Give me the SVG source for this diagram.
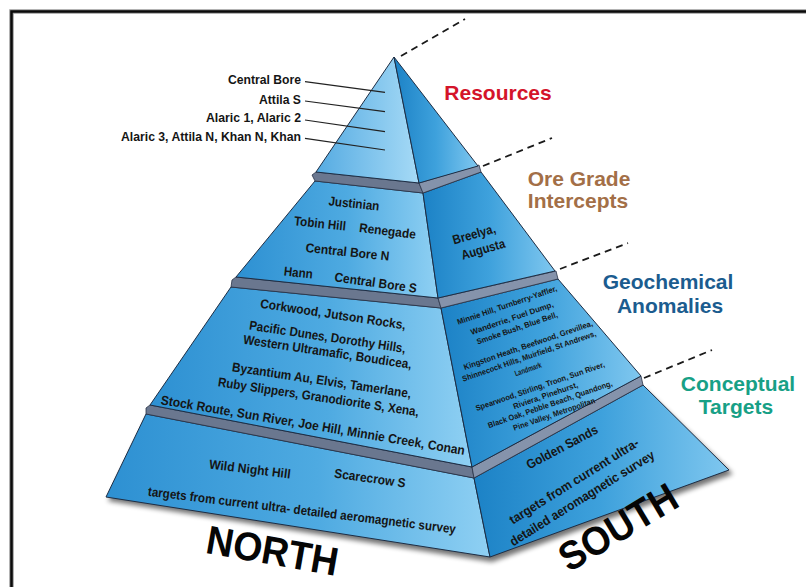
<svg xmlns="http://www.w3.org/2000/svg" width="806" height="587" viewBox="0 0 806 587">
  <defs>
    <linearGradient id="gL" x1="0" y1="0" x2="1" y2="0">
      <stop offset="0" stop-color="#2d90d2"/>
      <stop offset="0.55" stop-color="#4eaae1"/>
      <stop offset="1" stop-color="#8fd0f3"/>
    </linearGradient>
    <linearGradient id="gL1" x1="0" y1="0" x2="1" y2="0">
      <stop offset="0" stop-color="#55abe2"/>
      <stop offset="1" stop-color="#a6daf6"/>
    </linearGradient>
    <linearGradient id="gR" x1="0" y1="0" x2="1" y2="0">
      <stop offset="0" stop-color="#1c82c6"/>
      <stop offset="0.5" stop-color="#3ea1dc"/>
      <stop offset="1" stop-color="#7fc7ef"/>
    </linearGradient>
    <filter id="soft" x="-10%" y="-10%" width="120%" height="130%">
      <feGaussianBlur stdDeviation="2.5"/>
    </filter>
    <style>
      .face{stroke:#1d2d44;stroke-width:1;stroke-linejoin:round}
      .lf{fill:url(#gL)}
      .lf1{fill:url(#gL1)}
      .rf{fill:url(#gR)}
      .ldL{fill:#6a778f;stroke:#2a3447;stroke-width:0.8;stroke-linejoin:round}
      .ldR{fill:#8593ab;stroke:#2a3447;stroke-width:0.8;stroke-linejoin:round}
      .t{font-family:"Liberation Sans",Arial,sans-serif;font-weight:bold;fill:#151515}
      .s13{font-size:13px}
      .s8{font-size:8px}
      .big{font-family:"Liberation Sans",Arial,sans-serif;font-weight:bold;font-size:21px}
      .dir{font-family:"Liberation Sans",Arial,sans-serif;font-weight:bold;font-size:40px;fill:#050505}
      .dash{fill:none;stroke:#1a1a1a;stroke-width:1.8;stroke-dasharray:7 5}
      .lead{stroke:#222;stroke-width:1.2}
    </style>
  </defs>

  <rect width="806" height="587" fill="#ffffff"/>

  <!-- frame: top and left edges only -->
  <path d="M806 11.5 H11.5 V587" fill="none" stroke="#9a9a9a" stroke-width="4.5"/>
  <path d="M806 11.5 H11.5 V587" fill="none" stroke="#0a0a0a" stroke-width="2.5"/>

  <!-- soft shadow under the base -->
  <polygon points="108,501 492,562 733,474 645,390 148,418" fill="#000" opacity="0.55" filter="url(#soft)"/>

  <!-- base tier: conceptual targets -->
  <g id="tier-conceptual">
    <polygon class="face lf" points="146,414 474,478 490,557 106,497"/>
    <polygon class="face rf" points="474,478 643,385 729,470 490,557"/>
    <text class="t s13" transform="translate(250,469) rotate(7)" y="4.6" text-anchor="middle" textLength="82" lengthAdjust="spacingAndGlyphs">Wild Night Hill</text>
    <text class="t s13" transform="translate(370,478) rotate(8)" y="4.6" text-anchor="middle" textLength="72" lengthAdjust="spacingAndGlyphs">Scarecrow S</text>
    <text class="t s13" transform="translate(302,510) rotate(7)" y="4.6" text-anchor="middle" textLength="310" lengthAdjust="spacingAndGlyphs">targets from current  ultra- detailed aeromagnetic  survey</text>
    <text class="t s13" transform="translate(562,447) rotate(-28)" y="4.6" text-anchor="middle" textLength="79" lengthAdjust="spacingAndGlyphs">Golden Sands</text>
    <text class="t s13" transform="translate(574,481) rotate(-32)" y="4.6" text-anchor="middle" textLength="150" lengthAdjust="spacingAndGlyphs">targets from current  ultra-</text>
    <text class="t s13" transform="translate(582,498) rotate(-32)" y="4.6" text-anchor="middle" textLength="168" lengthAdjust="spacingAndGlyphs">detailed aeromagnetic  survey</text>
  </g>

  <!-- ledge between geochemical and base tiers -->
  <g id="ledge-3">
    <polygon class="ldL" points="146,408 146,414 474,478 472,467 150,405"/>
    <polygon class="ldR" points="472,467 474,478 643,385 641,376"/>
  </g>

  <!-- geochemical anomalies tier -->
  <g id="tier-geochemical">
    <polygon class="face lf" points="231,287 441,308 472,467 150,405"/>
    <polygon class="face rf" points="441,308 558,279 641,376 472,467"/>
    <text class="t s13" transform="translate(333,314) rotate(8.5)" y="4.6" text-anchor="middle" textLength="147" lengthAdjust="spacingAndGlyphs">Corkwood, Jutson Rocks,</text>
    <text class="t s13" transform="translate(327.5,336.7) rotate(8.5)" y="4.6" text-anchor="middle" textLength="158" lengthAdjust="spacingAndGlyphs">Pacific Dunes, Dorothy Hills,</text>
    <text class="t s13" transform="translate(327.5,351.7) rotate(8.5)" y="4.6" text-anchor="middle" textLength="170" lengthAdjust="spacingAndGlyphs">Western Ultramafic, Boudicea,</text>
    <text class="t s13" transform="translate(321.7,380) rotate(8.5)" y="4.6" text-anchor="middle" textLength="181" lengthAdjust="spacingAndGlyphs">Byzantium Au, Elvis, Tamerlane,</text>
    <text class="t s13" transform="translate(318.5,396.7) rotate(8.5)" y="4.6" text-anchor="middle" textLength="203" lengthAdjust="spacingAndGlyphs">Ruby Slippers, Granodiorite S, Xena,</text>
    <text class="t s13" transform="translate(313,425) rotate(9.5)" y="4.6" text-anchor="middle" textLength="308" lengthAdjust="spacingAndGlyphs">Stock Route, Sun River, Joe Hill, Minnie Creek, Conan</text>
    <g transform="translate(507,305) rotate(-19)">
      <text class="t s8" x="0" y="2.9" text-anchor="middle" textLength="105" lengthAdjust="spacingAndGlyphs">Minnie Hill, Turnberry-Yaffler,</text>
      <text class="t s8" x="0.5" y="16.8" text-anchor="middle" textLength="87" lengthAdjust="spacingAndGlyphs">Wanderrie,  Fuel Dump,</text>
      <text class="t s8" x="2" y="27.9" text-anchor="middle" textLength="85" lengthAdjust="spacingAndGlyphs">Smoke Bush, Blue Bell,</text>
      <text class="t s8" x="6.9" y="47.6" text-anchor="middle" textLength="136" lengthAdjust="spacingAndGlyphs">Kingston Heath, Beefwood, Grevillea,</text>
      <text class="t s8" x="4.2" y="58.3" text-anchor="middle" textLength="141" lengthAdjust="spacingAndGlyphs">Shinnecock Hills, Muirfield, St Andrews,</text>
      <text class="t s8" x="-1" y="70.3" text-anchor="middle" textLength="28" lengthAdjust="spacingAndGlyphs">Landmark</text>
      <text class="t s8" x="4.8" y="90.3" text-anchor="middle" textLength="136" lengthAdjust="spacingAndGlyphs">Spearwood, Stirling,  Troon, Sun River,</text>
      <text class="t s8" x="7" y="100.9" text-anchor="middle" textLength="68" lengthAdjust="spacingAndGlyphs">Riviera, Pinehurst,</text>
      <text class="t s8" x="8.4" y="110.6" text-anchor="middle" textLength="131" lengthAdjust="spacingAndGlyphs">Black Oak, Pebble Beach, Quandong,</text>
      <text class="t s8" x="9" y="121.3" text-anchor="middle" textLength="86" lengthAdjust="spacingAndGlyphs">Pine Valley,  Metropolitan</text>
    </g>
  </g>

  <!-- ledge between ore grade and geochemical tiers -->
  <g id="ledge-2">
    <polygon class="ldL" points="232,280 231,287 441,308 438,298 236,277"/>
    <polygon class="ldR" points="438,298 441,308 558,279 556,271"/>
  </g>

  <!-- ore grade intercepts tier -->
  <g id="tier-ore-grade">
    <polygon class="face lf" points="315,181 423,193 438,298 236,277"/>
    <polygon class="face rf" points="423,193 481,172 555,271 438,298"/>
    <text class="t s13" transform="translate(354,203.3) rotate(6)" y="4.6" text-anchor="middle" textLength="51" lengthAdjust="spacingAndGlyphs">Justinian</text>
    <text class="t s13" transform="translate(320,223.3) rotate(6)" y="4.6" text-anchor="middle" textLength="52" lengthAdjust="spacingAndGlyphs">Tobin Hill</text>
    <text class="t s13" transform="translate(387.5,230.8) rotate(7)" y="4.6" text-anchor="middle" textLength="57" lengthAdjust="spacingAndGlyphs">Renegade</text>
    <text class="t s13" transform="translate(347.5,251.7) rotate(6)" y="4.6" text-anchor="middle" textLength="84" lengthAdjust="spacingAndGlyphs">Central Bore N</text>
    <text class="t s13" transform="translate(298.3,272.5) rotate(6)" y="4.6" text-anchor="middle" textLength="29" lengthAdjust="spacingAndGlyphs">Hann</text>
    <text class="t s13" transform="translate(375.8,282.5) rotate(8)" y="4.6" text-anchor="middle" textLength="83" lengthAdjust="spacingAndGlyphs">Central Bore S</text>
    <text class="t s13" transform="translate(474,234) rotate(-16)" y="4.6" text-anchor="middle" textLength="44" lengthAdjust="spacingAndGlyphs">Breelya,</text>
    <text class="t s13" transform="translate(483,249) rotate(-16)" y="4.6" text-anchor="middle" textLength="45" lengthAdjust="spacingAndGlyphs">Augusta</text>
  </g>

  <!-- ledge between resources and ore grade tiers -->
  <g id="ledge-1">
    <polygon class="ldL" points="312,175 315,181 423,193 419,183 316,172"/>
    <polygon class="ldR" points="419,183 423,193 481,172 479,165"/>
  </g>

  <!-- resources tier (apex) -->
  <g id="tier-resources">
    <polygon class="face lf1" points="394,57 419,183 316,172"/>
    <polygon class="face rf" points="394,57 478,166 419,183"/>
    <text class="t s13" x="301" y="84" text-anchor="end" textLength="73" lengthAdjust="spacingAndGlyphs">Central Bore</text>
    <text class="t s13" x="301" y="104" text-anchor="end" textLength="42" lengthAdjust="spacingAndGlyphs">Attila S</text>
    <text class="t s13" x="301" y="122" text-anchor="end" textLength="95" lengthAdjust="spacingAndGlyphs">Alaric 1, Alaric 2</text>
    <text class="t s13" x="301" y="140.5" text-anchor="end" textLength="180" lengthAdjust="spacingAndGlyphs">Alaric 3, Attila N, Khan N, Khan</text>
  </g>

  <!-- leader lines and tier boundary dashes -->
  <g id="connectors">
    <line class="lead" x1="305" y1="81.7" x2="385" y2="92.3"/>
    <line class="lead" x1="305" y1="101" x2="385" y2="111.7"/>
    <line class="lead" x1="305" y1="120" x2="385" y2="131.7"/>
    <line class="lead" x1="305" y1="138.3" x2="385" y2="150"/>
    <line class="dash" x1="401" y1="56" x2="465" y2="19"/>
    <line class="dash" x1="483" y1="166" x2="552" y2="138"/>
    <line class="dash" x1="560" y1="269" x2="628" y2="243"/>
    <line class="dash" x1="644" y1="378" x2="712" y2="350"/>
  </g>

  <!-- tier names -->
  <g id="label-resources">
    <text class="big" x="498" y="100" text-anchor="middle" fill="#d4142a">Resources</text>
  </g>
  <g id="label-ore-grade">
    <text class="big" x="579" y="186" text-anchor="middle" fill="#a36f47">Ore Grade</text>
    <text class="big" x="578" y="208" text-anchor="middle" fill="#a36f47">Intercepts</text>
  </g>
  <g id="label-geochemical">
    <text class="big" x="668" y="289" text-anchor="middle" fill="#1b5c8f">Geochemical</text>
    <text class="big" x="670" y="313" text-anchor="middle" fill="#1b5c8f">Anomalies</text>
  </g>
  <g id="label-conceptual">
    <text class="big" x="738" y="391" text-anchor="middle" fill="#17a086">Conceptual</text>
    <text class="big" x="736" y="414" text-anchor="middle" fill="#17a086">Targets</text>
  </g>

  <!-- compass sides -->
  <text class="dir" transform="translate(272.5,550.5) rotate(10)" y="14" text-anchor="middle" textLength="133" lengthAdjust="spacingAndGlyphs">NORTH</text>
  <text class="dir" transform="translate(618,527) rotate(-31)" y="14" text-anchor="middle" textLength="131" lengthAdjust="spacingAndGlyphs">SOUTH</text>
</svg>
